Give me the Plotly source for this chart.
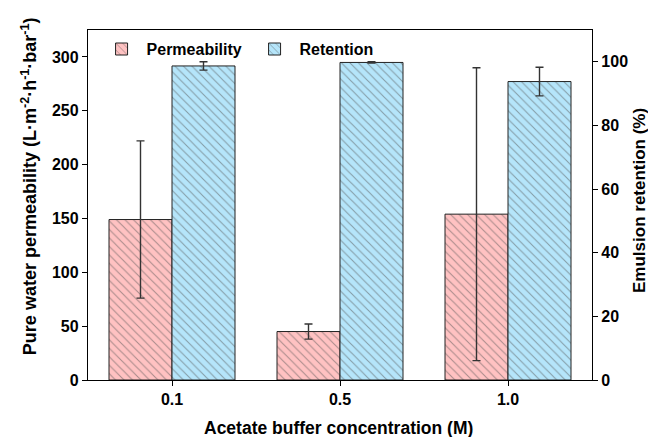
import plotly.graph_objects as go

categories = ["0.1", "0.5", "1.0"]
permeability = [149, 45, 154]
permeability_err = [73, 7, 136]
retention = [98.7, 99.8, 93.8]
retention_err = [1.3, 0.2, 4.5]

left_ticks = [0, 50, 100, 150, 200, 250, 300]
right_ticks = [0, 20, 40, 60, 80, 100]

font_family = "Liberation Sans, Arial, sans-serif"
hatch = dict(shape="\\", fgcolor="#555555", size=6, solidity=0.18)

fig = go.Figure()
fig.add_trace(go.Bar(
    x=categories, y=permeability, name="<b>Permeability</b>",
    width=0.375, offset=-0.375,
    marker=dict(color="#FFC2C2", line=dict(color="#222222", width=1), pattern=hatch),
    error_y=dict(type="data", array=permeability_err, color="#333333", thickness=1.4, width=4),
    yaxis="y",
))
fig.add_trace(go.Bar(
    x=categories, y=retention, name="<b>Retention</b>",
    width=0.375, offset=0,
    marker=dict(color="#B5E5FA", line=dict(color="#222222", width=1), pattern=hatch),
    error_y=dict(type="data", array=retention_err, color="#333333", thickness=1.4, width=4),
    yaxis="y2",
))

tick_font = dict(family=font_family, size=16, color="black")
common = dict(ticks="outside", ticklen=5, tickcolor="black", tickwidth=1.3,
              showline=True, linecolor="black", linewidth=1.3,
              showgrid=False, zeroline=False, tickfont=tick_font, automargin=False)

fig.update_layout(
    width=648, height=437,
    margin=dict(l=88, r=56, t=30, b=57),
    paper_bgcolor="white", plot_bgcolor="white",
    font=dict(family=font_family, color="black"),
    barmode="overlay",
    showlegend=True,
    legend=dict(orientation="h", x=0.017, y=0.994, xanchor="left", yanchor="top",
                font=dict(family=font_family, size=16, color="black"),
                bgcolor="rgba(0,0,0,0)", itemwidth=40,
                entrywidth=98, entrywidthmode="pixels"),
    xaxis=dict(type="category", range=[-0.5, 2.5], mirror=True,
               tickvals=categories, ticktext=["<b>%s</b>" % c for c in categories],
               **common),
    yaxis=dict(range=[0, 325], tickvals=left_ticks,
               ticktext=["<b>%d</b>" % v for v in left_ticks], **common),
    yaxis2=dict(range=[0, 110], overlaying="y", side="right", tickvals=right_ticks,
                ticktext=["<b>%d</b>" % v for v in right_ticks], **common),
    annotations=[
        dict(text="<b>Pure water permeability (L·m<sup>-2</sup>·h<sup>-1</sup>·bar<sup>-1</sup>)</b>",
             xref="paper", yref="paper", x=-0.117, y=0.554, textangle=-90,
             xanchor="center", yanchor="middle",
             showarrow=False, font=dict(family=font_family, size=18, color="black")),
        dict(text="<b>Emulsion retention (%)</b>",
             xref="paper", yref="paper", x=1.093, y=0.514, textangle=-90,
             xanchor="center", yanchor="middle",
             showarrow=False, font=dict(family=font_family, size=17, color="black")),
        dict(text="<b>Acetate buffer concentration (M)</b>",
             xref="paper", yref="paper", x=0.498, y=-0.137,
             xanchor="center", yanchor="middle",
             showarrow=False, font=dict(family=font_family, size=17.5, color="black")),
    ],
)

fig.write_html("out.html", config={"displayModeBar": False},
               post_script="document.body.style.margin='0';")
